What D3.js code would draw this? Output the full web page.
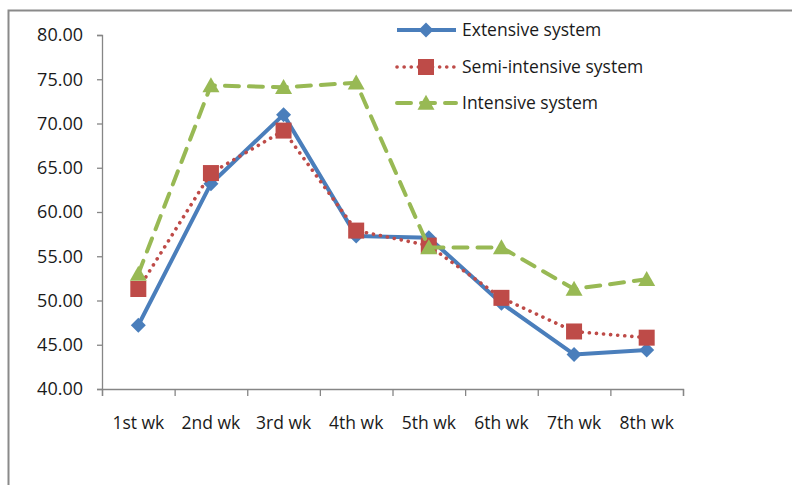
<!DOCTYPE html>
<html>
<head>
<meta charset="utf-8">
<script src="https://cdn.jsdelivr.net/npm/d3@7/dist/d3.min.js"></script>
<style>
  html, body { margin: 0; padding: 0; background: #fff; }
  svg { display: block; }
  text { font-family: "Open Sans", Lato, sans-serif; fill: #1a1a1a; }
</style>
</head>
<body>
<svg id="chart" width="792" height="485"></svg>
<script>
const categories = ["1st wk", "2nd wk", "3rd wk", "4th wk", "5th wk", "6th wk", "7th wk", "8th wk"];
const extensive = [47.2, 63.2, 71.0, 57.3, 57.1, 49.7, 43.9, 44.4];
const semiIntensive = [51.3, 64.4, 69.2, 57.9, 56.2, 50.3, 46.5, 45.8];
const intensive = [53.0, 74.3, 74.1, 74.6, 56.0, 56.0, 51.3, 52.4];
const yTicks = [40, 45, 50, 55, 60, 65, 70, 75, 80];
const seriesNames = ["Extensive system", "Semi-intensive system", "Intensive system"];

const series = [
  { name: seriesNames[0], values: extensive, color: "#4A7EBB", dash: null, cap: "butt", width: 4, marker: "diamond" },
  { name: seriesNames[1], values: semiIntensive, color: "#BE4B48", dash: "0.1 7", cap: "round", width: 3.6, marker: "square" },
  { name: seriesNames[2], values: intensive, color: "#98B954", dash: "14 10", cap: "round", width: 4, marker: "triangle" }
];

const FONT = "'Open Sans', Lato, sans-serif";
const svg = d3.select("#chart");
const plotLeft = 102, plotRight = 683, plotTop = 35, plotBottom = 389;

const x = d3.scaleBand().domain(categories).range([plotLeft, plotRight]).padding(0);
const y = d3.scaleLinear().domain([40, 80]).range([plotBottom, plotTop]);

// outer chart frame (top and left edges visible)
svg.append("path")
  .attr("d", "M8.5,485 V10.5 H792")
  .attr("fill", "none")
  .attr("stroke", "#8a8a8a")
  .attr("stroke-width", 2);

// Y axis
const yAxis = d3.axisLeft(y).tickValues(yTicks).tickSize(5).tickPadding(14)
  .tickFormat(d3.format(".2f"));
const gy = svg.append("g").attr("transform", `translate(${plotLeft},0)`).call(yAxis);
gy.select(".domain").attr("stroke", "#868686").attr("stroke-width", 1.3);
gy.selectAll(".tick line").attr("stroke", "#868686").attr("stroke-width", 1.3);
gy.selectAll(".tick text").attr("font-size", 18).attr("fill", "#1a1a1a")
  .style("font-family", FONT);

// X axis: boundary ticks + centered labels
const xb = d3.scaleLinear().domain([0, categories.length]).range([plotLeft, plotRight]);
const xAxisTicks = d3.axisBottom(xb).tickValues(d3.range(0, categories.length + 1)).tickSize(7).tickFormat("");
const gxt = svg.append("g").attr("transform", `translate(0,${plotBottom})`).call(xAxisTicks);
gxt.select(".domain").attr("stroke", "#868686").attr("stroke-width", 1.3);
gxt.selectAll(".tick line").attr("stroke", "#868686").attr("stroke-width", 1.3);

const xAxisLabels = d3.axisBottom(x).tickSize(0).tickPadding(28);
const gx = svg.append("g").attr("transform", `translate(0,${plotBottom})`).call(xAxisLabels);
gx.select(".domain").remove();
gx.selectAll(".tick text").attr("font-size", 17.5).attr("fill", "#1a1a1a")
  .style("font-family", FONT);

function cx(i) { return x(categories[i]) + x.bandwidth() / 2; }

function drawMarker(g, type, px, py, color) {
  if (type === "diamond") {
    const r = 7.5;
    g.append("path").attr("d", `M${px},${py - r} L${px + r},${py} L${px},${py + r} L${px - r},${py} Z`).attr("fill", color);
  } else if (type === "square") {
    const s = 16;
    g.append("rect").attr("x", px - s / 2).attr("y", py - s / 2).attr("width", s).attr("height", s).attr("fill", color);
  } else {
    const w = 17, h = 15;
    g.append("path").attr("d", `M${px},${py - h * 0.55} L${px + w / 2},${py + h * 0.45} L${px - w / 2},${py + h * 0.45} Z`).attr("fill", color);
  }
}

const line = d3.line().x((d, i) => cx(i)).y(d => y(d));

series.forEach(s => {
  const g = svg.append("g");
  g.append("path")
    .attr("d", line(s.values))
    .attr("fill", "none")
    .attr("stroke", s.color)
    .attr("stroke-width", s.width)
    .attr("stroke-linecap", s.cap)
    .attr("stroke-linejoin", "round")
    .attr("stroke-dasharray", s.dash);
  s.values.forEach((v, i) => drawMarker(g, s.marker, cx(i), y(v), s.color));
});

// Legend
const legendX0 = 397, legendX1 = 456, legendMarkX = 426, legendTextX = 462;
const legendY = [30, 67, 103];
series.forEach((s, i) => {
  const g = svg.append("g");
  const ly = legendY[i];
  g.append("line").attr("x1", legendX0).attr("x2", legendX1).attr("y1", ly).attr("y2", ly)
    .attr("stroke", s.color).attr("stroke-width", s.width)
    .attr("stroke-linecap", s.cap).attr("stroke-dasharray", s.dash);
  drawMarker(g, s.marker, legendMarkX, ly, s.color);
  g.append("text").attr("x", legendTextX).attr("y", ly).attr("dy", "0.35em")
    .attr("font-size", 17.5).style("font-family", FONT).text(s.name);
});
</script>
</body>
</html>
